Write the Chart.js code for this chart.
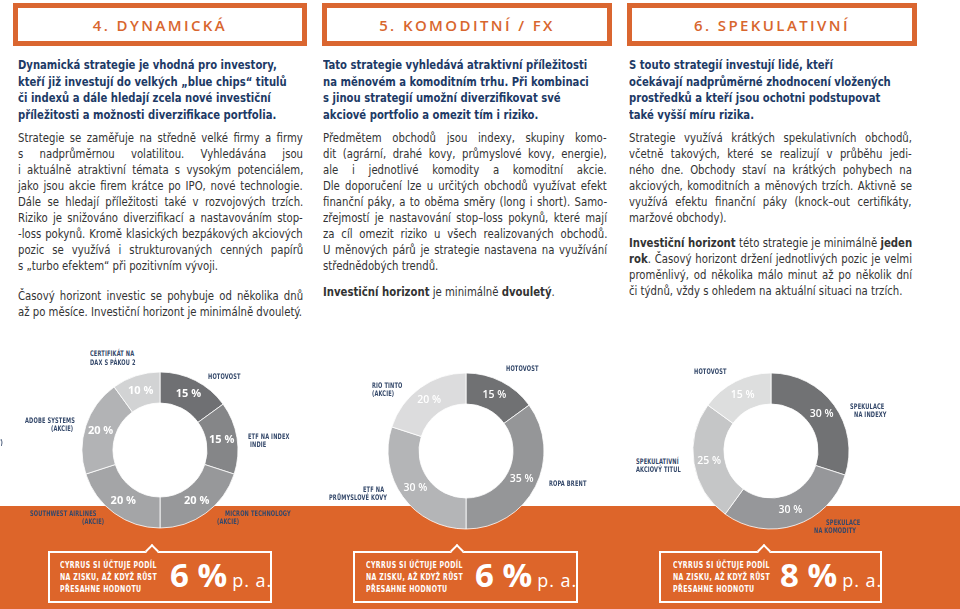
<!DOCTYPE html>
<html><head><meta charset="utf-8">
<script src="https://cdn.jsdelivr.net/npm/chart.js@4.4.1/dist/chart.umd.min.js"></script>
<style>
html,body{margin:0;padding:0;background:#fff;}
body{width:960px;height:609px;position:relative;overflow:hidden;font-family:"Liberation Sans Narrow","DejaVu Sans Condensed",sans-serif;}
.hdr{position:absolute;top:3px;height:43px;box-sizing:border-box;border:5px solid #DA6630;display:flex;align-items:center;justify-content:center;font-family:"Open Sans",sans-serif;font-weight:600;font-size:15px;letter-spacing:2.4px;color:#D8662E;}
.intro{position:absolute;top:57px;font-weight:bold;font-size:13px;line-height:16.7px;color:#1d3a66;white-space:pre;transform-origin:0 0;}
.body{position:absolute;font-size:13px;line-height:16px;color:#333;transform-origin:0 0;}
.ln{white-space:pre;}
.ln span{white-space:pre;}
.band{position:absolute;left:0;top:506px;width:960px;height:103px;background:#DD652A;z-index:0;}
.donut{position:absolute;width:180px;height:180px;z-index:1;}
.lbl{position:absolute;font-size:7.7px;font-weight:bold;line-height:8px;color:#34486a;letter-spacing:0.2px;white-space:pre;z-index:3;transform-origin:0 50%;}
.box{position:absolute;top:551px;height:52px;box-sizing:border-box;border:2px solid #fff;z-index:2;}
.notch{position:absolute;top:-7px;width:10px;height:10px;box-sizing:border-box;border-top:2px solid #fff;border-left:2px solid #fff;background:#DD652A;transform:rotate(45deg);}
.btxt{position:absolute;top:6px;font-weight:bold;font-size:9px;line-height:12px;color:#fff;letter-spacing:0.5px;white-space:pre;transform-origin:0 0;}
.big{position:absolute;top:0px;display:flex;align-items:baseline;white-space:pre;color:#fff;font-family:"Open Sans",sans-serif;}
.big .n{font-weight:700;font-size:33px;line-height:44px;}
.big .pa{font-weight:400;font-size:18px;letter-spacing:1px;margin-left:5px;}
#meas{position:absolute;left:0;top:0;white-space:pre;visibility:hidden;}
</style></head>
<body>
<div class="band"></div>

<div class="hdr" style="left:13px;width:294px;">4. DYNAMICKÁ</div>
<div class="hdr" style="left:322px;width:290px;">5. KOMODITNÍ / FX</div>
<div class="hdr" style="left:627px;width:290px;">6. SPEKULATIVNÍ</div>

<div class="intro" style="left:18px;">Dynamická strategie je vhodná pro investory,
kteří již investují do velkých „blue chips“ titulů
či indexů a dále hledají zcela nové investiční
příležitosti a možnosti diverzifikace portfolia.</div>
<div class="intro" style="left:323px;">Tato strategie vyhledává atraktivní příležitosti
na měnovém a komoditním trhu. Při kombinaci
s jinou strategií umožní diverzifikovat své
akciové portfolio a omezit tím i riziko.</div>
<div class="intro" style="left:629px;">S touto strategií investují lidé, kteří
očekávají nadprůměrné zhodnocení vložených
prostředků a kteří jsou ochotni podstupovat
také vyšší míru rizika.</div>

<div class="body" data-w="285" style="left:18px;top:130px;">
<div class="ln j"><span>Strategie se zaměřuje na středně velké firmy a firmy</span></div>
<div class="ln j"><span>s nadprůměrnou volatilitou. Vyhledávána jsou</span></div>
<div class="ln j"><span>i aktuálně atraktivní témata s vysokým potenciálem,</span></div>
<div class="ln j"><span>jako jsou akcie firem krátce po IPO, nové technologie.</span></div>
<div class="ln j"><span>Dále se hledají příležitosti také v rozvojových trzích.</span></div>
<div class="ln j"><span>Riziko je snižováno diverzifikací a nastavováním stop-</span></div>
<div class="ln j"><span>-loss pokynů. Kromě klasických bezpákových akciových</span></div>
<div class="ln j"><span>pozic se využívá i strukturovaných cenných papírů</span></div>
<div class="ln"><span>s „turbo efektem“ při pozitivním vývoji.</span></div>
</div>
<div class="body" data-w="285" style="left:18px;top:288px;">
<div class="ln j"><span>Časový horizont investic se pohybuje od několika dnů</span></div>
<div class="ln"><span id="ref">až po měsíce. Investiční horizont je minimálně dvouletý.</span></div>
</div>

<div class="body" data-w="284" style="left:323px;top:130px;">
<div class="ln j"><span>Předmětem obchodů jsou indexy, skupiny komo-</span></div>
<div class="ln j"><span>dit (agrární, drahé kovy, průmyslové kovy, energie),</span></div>
<div class="ln j"><span>ale i jednotlivé komodity a komoditní akcie.</span></div>
<div class="ln j"><span>Dle doporučení lze u určitých obchodů využívat efekt</span></div>
<div class="ln j"><span>finanční páky, a to oběma směry (long i short). Samo-</span></div>
<div class="ln j"><span>zřejmostí je nastavování stop–loss pokynů, které mají</span></div>
<div class="ln j"><span>za cíl omezit riziko u všech realizovaných obchodů.</span></div>
<div class="ln j"><span>U měnových párů je strategie nastavena na využívání</span></div>
<div class="ln"><span>střednědobých trendů.</span></div>
</div>
<div class="body" data-w="284" style="left:323px;top:284px;">
<div class="ln"><span><b>Investiční horizont</b> je minimálně <b>dvouletý</b>.</span></div>
</div>

<div class="body" data-w="283" style="left:629px;top:130px;">
<div class="ln j"><span>Strategie využívá krátkých spekulativních obchodů,</span></div>
<div class="ln j"><span>včetně takových, které se realizují v průběhu jedi-</span></div>
<div class="ln j"><span>ného dne. Obchody staví na krátkých pohybech na</span></div>
<div class="ln j"><span>akciových, komoditních a měnových trzích. Aktivně se</span></div>
<div class="ln j"><span>využívá efektu finanční páky (knock–out certifikáty,</span></div>
<div class="ln"><span>maržové obchody).</span></div>
</div>
<div class="body" data-w="283" style="left:629px;top:235px;">
<div class="ln j"><span><b>Investiční horizont</b> této strategie je minimálně <b>jeden</b></span></div>
<div class="ln j"><span><b>rok</b>. Časový horizont držení jednotlivých pozic je velmi</span></div>
<div class="ln j"><span>proměnlivý, od několika málo minut až po několik dní</span></div>
<div class="ln"><span>či týdnů, vždy s ohledem na aktuální situaci na trzích.</span></div>
</div>

<div class="donut" style="left:70px;top:360px;"><canvas id="c1"></canvas></div>
<div class="donut" style="left:375.5px;top:361px;"><canvas id="c2"></canvas></div>
<div class="donut" style="left:681px;top:361px;"><canvas id="c3"></canvas></div>

<div id="labels"></div>

<div class="box" style="left:48px;width:224px;"><div class="notch" style="left:97px;"></div>
<div class="btxt" style="left:10px;" id="b1"></div><div class="big" style="left:120px;" id="f1"></div></div>
<div class="box" style="left:353px;width:225px;"><div class="notch" style="left:97px;"></div>
<div class="btxt" style="left:11px;" id="b2"></div><div class="big" style="left:120px;" id="f2"></div></div>
<div class="box" style="left:659px;width:223px;"><div class="notch" style="left:98px;"></div>
<div class="btxt" style="left:12px;" id="b3"></div><div class="big" style="left:119px;" id="f3"></div></div>

<span id="meas"></span>

<script>
// ---------- DATA ----------
const chart1Categories = [['HOTOVOST'], ['ETF NA INDEX', 'INDIE'], ['MICRON TECHNOLOGY', '(AKCIE)'], ['SOUTHWEST AIRLINES', '(AKCIE)'], ['ADOBE SYSTEMS', '(AKCIE)'], ['CERTIFIKÁT NA', 'DAX S PÁKOU 2']];
const chart1Values = [15, 15, 20, 20, 20, 10];

const chart2Categories = [['HOTOVOST'], ['ROPA BRENT'], ['ETF NA', 'PRŮMYSLOVÉ KOVY'], ['RIO TINTO', '(AKCIE)']];
const chart2Values = [15, 35, 30, 20];

const chart3Categories = [['SPEKULACE', 'NA INDEXY'], ['SPEKULACE', 'NA KOMODITY'], ['SPEKULATIVNÍ', 'AKCIOVÝ TITUL'], ['HOTOVOST']];
const chart3Values = [30, 30, 25, 15];

const feeValues = [6, 6, 8];
const feeText = ['CYRRUS SI ÚČTUJE PODÍL', 'NA ZISKU, AŽ KDYŽ RŮST', 'PŘESAHNE HODNOTU'];

// ---------- LAYOUT / STYLE ----------
const colors1 = ['#6f7073', '#858688', '#97989a', '#a4a5a7', '#b2b3b5', '#d2d3d4'];
const colors2 = ['#707173', '#959698', '#b4b5b7', '#dcdcdd'];
const colors3 = ['#717274', '#96979a', '#c5c6c7', '#dddede'];

// left x, centre y of each label line
const labelPos1 = [[[208, 377]], [[248, 437], [250, 445]], [[225, 514], [217, 522]], [[30, 514], [82, 522]], [[25, 421], [51, 429]], [[90, 354], [90, 363]]];
const labelPos2 = [[[506, 369]], [[549, 484]], [[363, 490], [329, 498]], [[372, 386], [372, 394]]];
const labelPos3 = [[[850, 407], [854, 415]], [[826, 523], [814, 531]], [[636, 462], [636, 470]], [[694, 372]]];

const labelsDiv = document.getElementById('labels');
function addLabels(cats, pos) {
  cats.forEach((lines, i) => {
    lines.forEach((t, k) => {
      const d = document.createElement('div');
      d.className = 'lbl';
      d.textContent = t;
      d.style.left = pos[i][k][0] + 'px';
      d.style.top = (pos[i][k][1] - 4) + 'px';
      labelsDiv.appendChild(d);
    });
  });
}
addLabels(chart1Categories, labelPos1);
addLabels(chart2Categories, labelPos2);
addLabels(chart3Categories, labelPos3);
// clipped label from previous page
(function(){const d=document.createElement('div');d.className='lbl';d.textContent='T)';d.style.left='-3px';d.style.top='439px';labelsDiv.appendChild(d);})();

// fee boxes
for (let i = 0; i < 3; i++) {
  document.getElementById('b' + (i + 1)).textContent = feeText.join('\n');
  document.getElementById('f' + (i + 1)).innerHTML = '<span class="n">' + feeValues[i] + ' %</span><span class="pa">p. a.</span>';
}

const pctPlugin = {
  id: 'pct',
  afterDatasetsDraw(chart, args, opts) {
    const ctx = chart.ctx;
    const meta = chart.getDatasetMeta(0);
    const vals = chart.data.datasets[0].data;
    ctx.save();
    ctx.fillStyle = '#ffffff';
    ctx.font = opts.font;
    ctx.textAlign = 'center';
    ctx.textBaseline = 'middle';
    meta.data.forEach((arc, i) => {
      const p = arc.tooltipPosition();
      ctx.fillText(vals[i] + ' %', p.x, p.y);
    });
    ctx.restore();
  }
};

function makeDonut(id, cats, vals, cols, font) {
  new Chart(document.getElementById(id), {
    type: 'doughnut',
    data: {
      labels: cats.map(c => c.join(' ')),
      datasets: [{ data: vals, backgroundColor: cols, borderColor: '#ffffff', borderWidth: 0.8 }]
    },
    options: {
      responsive: true, maintainAspectRatio: false, animation: false,
      radius: 78, cutout: 54, events: [],
      layout: { padding: 0 },
      plugins: { legend: { display: false }, tooltip: { enabled: false }, pct: { font: font } }
    },
    plugins: [pctPlugin]
  });
}

function clamp(v, a, b) { return Math.max(a, Math.min(b, v)); }

function fitText() {
  const meas = document.getElementById('meas');
  // body scale from a reference line
  meas.style.font = '13px "Liberation Sans Narrow","DejaVu Sans Condensed",sans-serif';
  meas.textContent = 'až po měsíce. Investiční horizont je minimálně dvouletý.';
  const s = clamp(284 / meas.offsetWidth, 0.6, 1.15);
  document.querySelectorAll('.body').forEach(b => {
    const T = +b.dataset.w / s;
    b.style.width = T + 'px';
    b.style.transform = 'scaleX(' + s + ')';
    b.querySelectorAll('.ln.j').forEach(ln => {
      const sp = ln.firstElementChild;
      const w = sp.offsetWidth;
      const n = (sp.textContent.match(/ /g) || []).length;
      if (n) sp.style.wordSpacing = ((T - w) / n) + 'px';
    });
  });
  meas.style.font = 'bold 13px "Liberation Sans Narrow","DejaVu Sans Condensed",sans-serif';
  meas.textContent = 'Dynamická strategie je vhodná pro investory,';
  const s2 = clamp(259 / meas.offsetWidth, 0.6, 1.2);
  document.querySelectorAll('.intro').forEach(e => e.style.transform = 'scaleX(' + s2 + ')');

  // donut labels: reference "CERTIFIKÁT NA" ≈ 44px wide
  const lbls = document.querySelectorAll('.lbl');
  let refLbl = null;
  lbls.forEach(l => { if (l.textContent === 'CERTIFIKÁT NA') refLbl = l; });
  const s3 = clamp(44 / refLbl.offsetWidth, 0.5, 1.3);
  lbls.forEach(l => l.style.transform = 'scaleX(' + s3 + ')');

  // fee box text: first line ≈ 97px wide
  meas.style.font = 'bold 9px "Liberation Sans Narrow","DejaVu Sans Condensed",sans-serif';
  meas.style.letterSpacing = '0.5px';
  meas.textContent = feeText[0];
  const s4 = clamp(97 / meas.offsetWidth, 0.5, 1.3);
  document.querySelectorAll('.btxt').forEach(e => e.style.transform = 'scaleX(' + s4 + ')');
  meas.textContent = '';
}

function init() {
  fitText();
  makeDonut('c1', chart1Categories, chart1Values, colors1, 'bold 11px "Open Sans", sans-serif');
  makeDonut('c2', chart2Categories, chart2Values, colors2, '600 10.5px "Open Sans", sans-serif');
  makeDonut('c3', chart3Categories, chart3Values, colors3, '600 10.5px "Open Sans", sans-serif');
}
if (document.fonts && document.fonts.ready) document.fonts.ready.then(init); else init();
</script>
</body></html>
